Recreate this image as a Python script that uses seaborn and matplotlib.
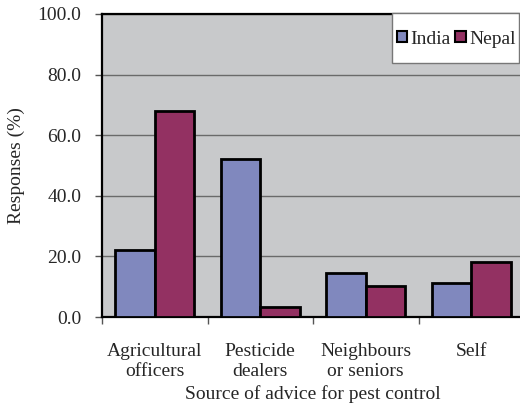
import pandas as pd
import matplotlib
matplotlib.use("Agg")
import matplotlib.pyplot as plt
from matplotlib.patches import Rectangle
import seaborn as sns

# Data
sources = ["Agricultural\nofficers", "Pesticide\ndealers", "Neighbours\nor seniors", "Self"]
india = [22.1, 52.0, 14.6, 11.1]
nepal = [68.1, 3.2, 10.3, 18.2]
countries = ["India", "Nepal"]
colors = ["#8088BE", "#933162"]
yticks = [0, 20, 40, 60, 80, 100]

df = pd.DataFrame({
    "source": sources * 2,
    "country": ["India"] * len(sources) + ["Nepal"] * len(sources),
    "value": india + nepal,
})

sns.set_style("white")
plt.rcParams["font.family"] = ["Liberation Serif", "DejaVu Serif"]
fs = 14

W, H = 520, 403
fig = plt.figure(figsize=(W / 100, H / 100), dpi=100)
ax = fig.add_axes([102 / W, (H - 317) / H, (524 - 102) / W, (317 - 14) / H])
ax.set_facecolor("#C8C9CB")

sns.barplot(data=df, x="source", y="value", hue="country", hue_order=countries,
            palette=colors, saturation=1, width=0.75, edgecolor="black", linewidth=2,
            ax=ax, legend=False, zorder=3)

ax.set_ylim(0, 100)
ax.set_xlim(-0.5, len(sources) - 0.5)
ax.set_yticks(yticks)
ax.set_yticklabels([f"{v:.1f}" for v in yticks], fontsize=fs)
ax.yaxis.grid(True, color="#6a6a6a", linewidth=1, zorder=0)
ax.set_axisbelow(True)

# category labels without marks, boundary ticks as minor ticks
ax.set_xticks(range(len(sources)))
ax.set_xticklabels(sources, fontsize=fs, linespacing=1.2)
ax.set_xticks([i - 0.5 for i in range(len(sources) + 1)], minor=True)
ax.tick_params(axis="x", which="major", length=0, pad=19)
ax.tick_params(axis="x", which="minor", length=5, width=1, color="#555555", direction="out", bottom=True)
ax.tick_params(axis="y", length=5, width=1, color="#555555", direction="out", left=True, pad=10)

for side in ["left", "bottom", "top", "right"]:
    ax.spines[side].set_color("black")
    ax.spines[side].set_linewidth(1.6)

ax.set_xlabel("Source of advice for pest control", fontsize=fs, labelpad=4)
ax.set_ylabel("Responses (%)", fontsize=fs, labelpad=9)

# legend with a white box
box = Rectangle((392 / W, (H - 63) / H), 127 / W, 50 / H, transform=fig.transFigure,
                facecolor="white", edgecolor="#777777", linewidth=1, zorder=5)
fig.add_artist(box)
handles = [Rectangle((0, 0), 1, 1, facecolor=c, edgecolor="black", linewidth=1.5) for c in colors]
leg = fig.legend(handles, countries, loc="center", bbox_to_anchor=(456 / W, (H - 39) / H),
                 ncol=2, frameon=False, fontsize=fs, handlelength=0.55, handleheight=0.55,
                 handletextpad=0.15, columnspacing=0.25, borderpad=0)
leg.set_zorder(6)

fig.savefig("out.png", dpi=100)
